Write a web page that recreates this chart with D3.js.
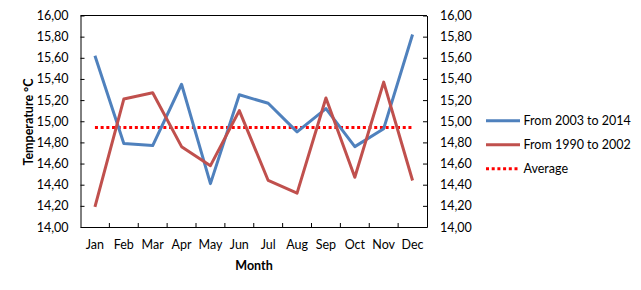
<!DOCTYPE html>
<html><head><meta charset="utf-8">
<script src="https://cdn.jsdelivr.net/npm/d3@7"></script>
<style>body{margin:0;background:#fff}svg{display:block}</style>
</head><body>
<script>
const months = ["Jan","Feb","Mar","Apr","May","Jun","Jul","Aug","Sep","Oct","Nov","Dec"];
const recent = [15.62,14.79,14.77,15.35,14.41,15.25,15.17,14.90,15.12,14.76,14.93,15.82];
const older  = [14.19,15.21,15.27,14.76,14.58,15.10,14.44,14.32,15.22,14.47,15.37,14.44];
const average = [14.94,14.94,14.94,14.94,14.94,14.94,14.94,14.94,14.94,14.94,14.94,14.94];
const yTicks = [14.0,14.2,14.4,14.6,14.8,15.0,15.2,15.4,15.6,15.8,16.0];
const seriesNames = ["From 2003 to 2014","From 1990 to 2002","Average"];

const W=641,H=290;
const L=80.5,R=427,T=15.5,B=227;
const font="Lato, 'Open Sans', sans-serif";
const svg=d3.select("body").append("svg").attr("width",W).attr("height",H);

const x=d3.scaleBand().domain(months).range([L,R]);
const y=d3.scaleLinear().domain([14,16]).range([B,T]);
const fmt=v=>v.toFixed(2).replace(".",",");

// frame top line
svg.append("line").attr("x1",L).attr("x2",R).attr("y1",T).attr("y2",T).attr("stroke","#000");

const left=svg.append("g").attr("transform",`translate(${L},0)`)
  .call(d3.axisLeft(y).tickValues(yTicks).tickFormat(fmt).tickSizeInner(-4).tickSizeOuter(0).tickPadding(12));
const right=svg.append("g").attr("transform",`translate(${R},0)`)
  .call(d3.axisRight(y).tickValues(yTicks).tickFormat(fmt).tickSizeInner(-4).tickSizeOuter(0).tickPadding(13));
const bottom=svg.append("g").attr("transform",`translate(0,${B})`)
  .call(d3.axisBottom(x).tickSize(0).tickPadding(13));
// category boundary ticks inside
bottom.selectAll(".bt").data(months.slice(1)).enter().append("line")
  .attr("x1",d=>x(d)).attr("x2",d=>x(d)).attr("y1",0).attr("y2",-4).attr("stroke","#000");
[left,right,bottom].forEach(g=>{
  g.selectAll("path.domain").attr("stroke","#000");
  g.selectAll("line").attr("stroke","#000");
  g.selectAll("text").attr("font-family",font).attr("font-size","12.5px").attr("fill","#000");
});

const line=d3.line().x((d,i)=>x(months[i])+x.bandwidth()/2).y(d=>y(d));
svg.append("path").datum(average).attr("d",line).attr("fill","none")
  .attr("stroke","#FF0000").attr("stroke-width",3).attr("stroke-dasharray","3,2.7");
svg.append("path").datum(recent).attr("d",line).attr("fill","none")
  .attr("stroke","#4F81BD").attr("stroke-width",3).attr("stroke-linejoin","round");
svg.append("path").datum(older).attr("d",line).attr("fill","none")
  .attr("stroke","#C0504D").attr("stroke-width",3).attr("stroke-linejoin","round");

// axis titles
svg.append("text").attr("transform","translate(33,122) rotate(-90)").attr("text-anchor","middle")
  .attr("font-family",font).attr("font-weight","bold").attr("font-size","12.5px").text("Temperature °C");
svg.append("text").attr("x",254).attr("y",270).attr("text-anchor","middle")
  .attr("font-family",font).attr("font-weight","bold").attr("font-size","12.5px").text("Month");

// legend
const colors=["#4F81BD","#C0504D","#FF0000"];
const lg=svg.append("g");
seriesNames.forEach((n,i)=>{
  const yy=120.7+i*24;
  const ln=lg.append("line").attr("x1",486).attr("x2",i==2?518:520).attr("y1",yy).attr("y2",yy)
    .attr("stroke",colors[i]).attr("stroke-width",3);
  if(i==2) ln.attr("stroke-dasharray","3,2.7");
  lg.append("text").attr("x",523.5).attr("y",yy+4.5).attr("font-family",font).attr("font-size","12.5px").text(n);
});
</script>
</body></html>
